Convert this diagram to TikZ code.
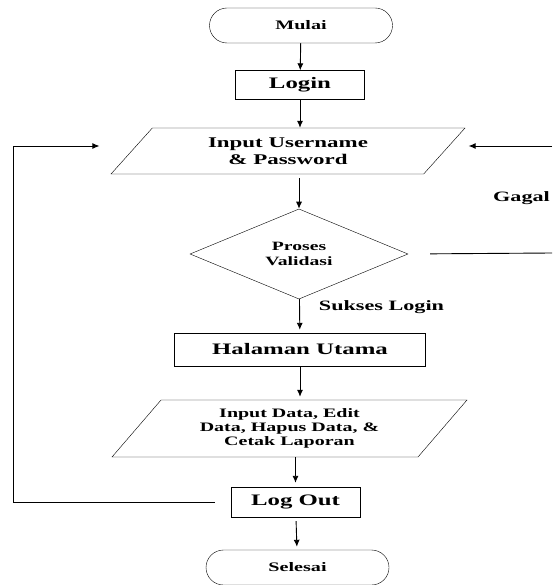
\documentclass[tikz,border=0pt]{standalone}
\usepackage{fontspec}
\setmainfont{Liberation Serif}[FakeStretch=1.55]
\usetikzlibrary{shapes}
\usetikzlibrary{arrows.meta}

\begin{document}
\begin{tikzpicture}[x=1pt,y=-1pt]
\tikzset{terminal/.style = {shape=rectangle,draw,rounded corners=17.5pt,minimum width=183pt,minimum height=35pt,font=\fontsize{13}{15}\selectfont\bfseries}}
\tikzset{process/.style = {shape=rectangle,draw,minimum width=129pt,minimum height=29pt,font=\fontsize{16}{18}\selectfont\bfseries}}
\tikzset{io/.style = {shape=trapezium,draw,trapezium stretches body,trapezium left angle=33,trapezium right angle=147,minimum height=46pt,minimum width=354pt,align=center,inner sep=0pt}}
\tikzset{decision/.style = {shape=diamond,draw,minimum width=218pt,minimum height=84pt,inner sep=0pt,align=center,font=\fontsize{12.7}{14.5}\selectfont\bfseries}}
\tikzset{note/.style = {inner sep=0pt,font=\fontsize{14.3}{16}\selectfont\bfseries}}
\tikzset{edge/.style = {-{Latex[length=7pt,width=6pt]},line width=0.9pt}}
\tikzset{line/.style = {line width=0.9pt}}
\useasboundingbox (0,0) rectangle (552,585);

% vertices
\node[terminal] (mulai) at (301,25.5) {Mulai};
\node[process] (login) at (300,85) {Login};
\node[io,font=\fontsize{14.8}{17}\selectfont\bfseries] (input) at (288,151) {Input Username\\\& Password};
\node[decision] (valid) at (299,254) {Proses\\Validasi};
\node[process,minimum width=251pt,minimum height=33pt] (halaman) at (300,349.5) {Halaman Utama};
\node[io,trapezium left angle=39,trapezium right angle=141,minimum height=57pt,minimum width=355pt,font=\fontsize{12.9}{14}\selectfont\bfseries] (inputdata) at (289.5,428.5) {Input Data, Edit\\Data, Hapus Data, \&\\Cetak Laporan};
\node[process,minimum height=30pt] (logout) at (295.5,502) {Log Out};
\node[terminal] (selesai) at (297.5,567.5) {Selesai};

\node[note] (sukses) at (381.5,307) {Sukses Login};
\node[note] (gagal) at (521.5,198.5) {Gagal};

\coordinate (fbl) at (13,502);
\coordinate (fbr1) at (552,146);
\coordinate (fbr2) at (552,253);

%edges
\draw[edge] (mulai) to (login);
\draw[edge] (login.south) to (login.south |- input.north);
\draw[edge, shorten <=4pt] (valid.north |- input.south) to (valid.north);
\draw[edge, shorten >=3pt] (valid) to (halaman);
\draw[edge, shorten >=3pt] (halaman.south) to (halaman.south |- inputdata.north);
\draw[edge, shorten >=4pt] (logout.north |- inputdata.south) to (logout.north);
\draw[edge, shorten <=4pt, shorten >=3pt] (logout) to (selesai);

\draw[edge, shorten <=16pt, shorten >=32pt] (logout.west) -- (fbl) |- ([yshift=5pt]input.west);
\draw[edge, shorten >=24pt] (fbr1) -- (fbr1 -| input.east);
\draw[line, shorten <=22pt] (valid.east) -- (fbr2);

\end{tikzpicture}
\end{document}
